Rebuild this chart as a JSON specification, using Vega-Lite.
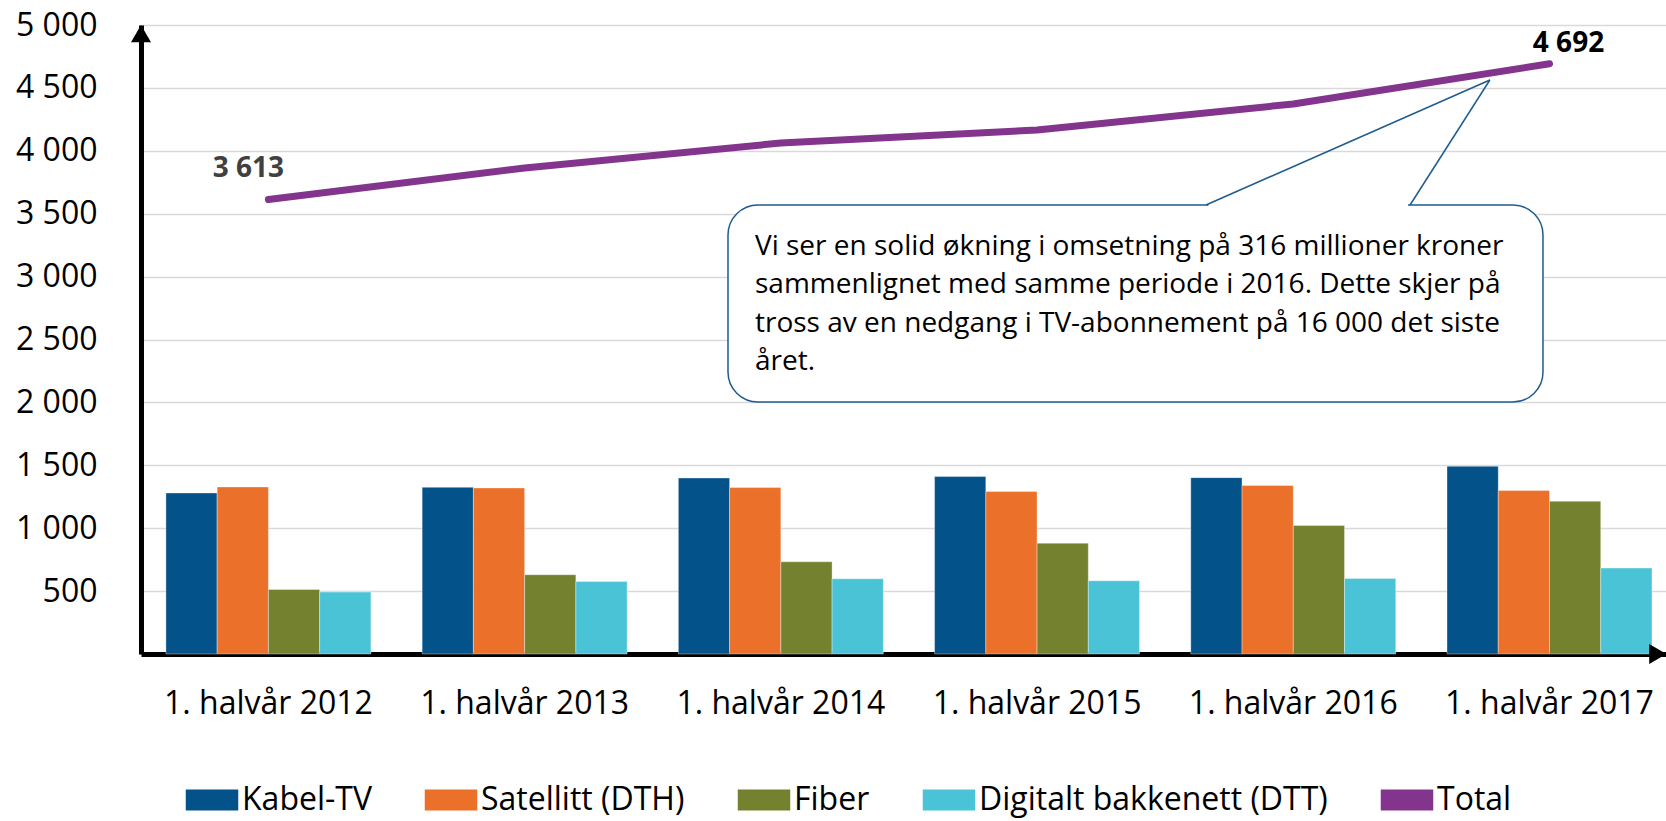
{
  "$schema": "https://vega.github.io/schema/vega-lite/v6.json",
  "autosize": "none",
  "width": 1525,
  "height": 629,
  "padding": {"left": 141, "top": 25, "right": 0, "bottom": 167},
  "background": "white",
  "config": {
    "font": "Open Sans",
    "view": {"stroke": null},
    "axis": {"labelFont": "Open Sans", "labelFontSize": 32, "labelColor": "#000000", "ticks": false, "domainColor": "#000000", "domainWidth": 5, "labelLimit": 0},
    "axisX": {"labelPadding": 34, "labelAngle": 0, "grid": false},
    "axisY": {"labelPadding": 44, "gridColor": "#D9D9D9", "gridWidth": 1.5}
  },
  "datasets": {
    "bars": [
      {"period": "1. halvår 2012", "series": "Kabel-TV", "value": 1280},
      {"period": "1. halvår 2012", "series": "Satellitt (DTH)", "value": 1328},
      {"period": "1. halvår 2012", "series": "Fiber", "value": 513},
      {"period": "1. halvår 2012", "series": "Digitalt bakkenett (DTT)", "value": 492},
      {"period": "1. halvår 2013", "series": "Kabel-TV", "value": 1325},
      {"period": "1. halvår 2013", "series": "Satellitt (DTH)", "value": 1320},
      {"period": "1. halvår 2013", "series": "Fiber", "value": 630},
      {"period": "1. halvår 2013", "series": "Digitalt bakkenett (DTT)", "value": 577},
      {"period": "1. halvår 2014", "series": "Kabel-TV", "value": 1399},
      {"period": "1. halvår 2014", "series": "Satellitt (DTH)", "value": 1323},
      {"period": "1. halvår 2014", "series": "Fiber", "value": 733},
      {"period": "1. halvår 2014", "series": "Digitalt bakkenett (DTT)", "value": 598},
      {"period": "1. halvår 2015", "series": "Kabel-TV", "value": 1410},
      {"period": "1. halvår 2015", "series": "Satellitt (DTH)", "value": 1291},
      {"period": "1. halvår 2015", "series": "Fiber", "value": 881},
      {"period": "1. halvår 2015", "series": "Digitalt bakkenett (DTT)", "value": 582},
      {"period": "1. halvår 2016", "series": "Kabel-TV", "value": 1402},
      {"period": "1. halvår 2016", "series": "Satellitt (DTH)", "value": 1339},
      {"period": "1. halvår 2016", "series": "Fiber", "value": 1021},
      {"period": "1. halvår 2016", "series": "Digitalt bakkenett (DTT)", "value": 601},
      {"period": "1. halvår 2017", "series": "Kabel-TV", "value": 1492},
      {"period": "1. halvår 2017", "series": "Satellitt (DTH)", "value": 1299},
      {"period": "1. halvår 2017", "series": "Fiber", "value": 1214},
      {"period": "1. halvår 2017", "series": "Digitalt bakkenett (DTT)", "value": 683}
    ],
    "total": [
      {"period": "1. halvår 2012", "series": "Total", "value": 3613, "label": "3 613"},
      {"period": "1. halvår 2013", "series": "Total", "value": 3863, "label": ""},
      {"period": "1. halvår 2014", "series": "Total", "value": 4062, "label": ""},
      {"period": "1. halvår 2015", "series": "Total", "value": 4166, "label": ""},
      {"period": "1. halvår 2016", "series": "Total", "value": 4372, "label": ""},
      {"period": "1. halvår 2017", "series": "Total", "value": 4692, "label": "4 692"}
    ]
  },
  "layer": [
    {
      "layer": [
        {
          "data": {"name": "bars"},
          "mark": {"type": "bar", "stroke": "#ffffff", "strokeWidth": 0.6, "strokeOpacity": 0.6},
          "encoding": {
            "x": {"field": "period", "type": "nominal", "title": null,
                  "scale": {"paddingInner": 0.2, "paddingOuter": 0.076, "align": 0.64}},
            "xOffset": {"field": "series", "type": "nominal",
                        "sort": ["Kabel-TV", "Satellitt (DTH)", "Fiber", "Digitalt bakkenett (DTT)"],
                        "scale": {"paddingInner": 0, "paddingOuter": 0}},
            "y": {"field": "value", "type": "quantitative", "title": null,
                  "scale": {"domain": [0, 5000], "nice": false},
                  "axis": {"values": [500, 1000, 1500, 2000, 2500, 3000, 3500, 4000, 4500, 5000],
                           "labelExpr": "replace(format(datum.value, ','), ',', ' ')"}},
            "color": {"field": "series", "type": "nominal",
                      "scale": {"domain": ["Kabel-TV", "Satellitt (DTH)", "Fiber", "Digitalt bakkenett (DTT)", "Total"],
                                "range": ["#03528A", "#EB7029", "#748230", "#4BC3D6", "#83358D"]},
                      "legend": {"title": null, "orient": "none", "legendX": 55, "legendY": 759,
                                 "direction": "horizontal", "columns": 5, "padding": 0,
                                 "labelFont": "Open Sans", "labelFontSize": 32, "labelColor": "#000000",
                                 "symbolSize": 441, "labelOffset": 14, "columnPadding": 52, "labelLimit": 0,
                                 "symbolType": "M-2.5,-1H2.5V1H-2.5Z", "symbolStrokeWidth": 0,
                                 "encode": {"symbols": {"update": {
                                   "shape": {"signal": "datum.value === 'Total' ? 'M-2.8,-0.45H2.8V0.45H-2.8Z' : 'M-2.5,-1H2.5V1H-2.5Z'"},
                                   "fill": {"scale": "color", "field": "value"},
                                   "stroke": {"value": "transparent"},
                                   "opacity": {"value": 1},
                                   "fillOpacity": {"value": 1}}}}}}
          }
        },
        {
          "data": {"name": "total"},
          "mark": {"type": "line", "strokeWidth": 7, "strokeCap": "round", "strokeJoin": "round"},
          "encoding": {
            "x": {"field": "period", "type": "nominal", "title": null},
            "y": {"field": "value", "type": "quantitative", "title": null, "scale": {"domain": [0, 5000], "nice": false}},
            "color": {"field": "series", "type": "nominal"}
          }
        },
        {
          "data": {"name": "total"},
          "transform": [{"filter": "datum.label === '3 613'"}],
          "mark": {"type": "text", "font": "Open Sans", "fontSize": 28, "fontWeight": "bold", "color": "#404040", "dx": -20, "dy": -30, "align": "center", "baseline": "middle"},
          "encoding": {
            "x": {"field": "period", "type": "nominal", "title": null},
            "y": {"field": "value", "type": "quantitative", "title": null},
            "text": {"field": "label"}
          }
        },
        {
          "data": {"name": "total"},
          "transform": [{"filter": "datum.label === '4 692'"}],
          "mark": {"type": "text", "font": "Open Sans", "fontSize": 28, "fontWeight": "bold", "color": "#000000", "dx": 19, "dy": -20, "align": "center", "baseline": "middle"},
          "encoding": {
            "x": {"field": "period", "type": "nominal", "title": null},
            "y": {"field": "value", "type": "quantitative", "title": null},
            "text": {"field": "label"}
          }
        }
      ]
    },
    {
      "data": {"values": [{}]},
      "layer": [
        {
          "mark": {"type": "rect", "fill": "#ffffff", "stroke": "#1F5B8E", "strokeWidth": 1.5, "cornerRadius": 30},
          "encoding": {
            "x": {"datum": 2.3095, "type": "quantitative", "scale": {"domain": [0, 6], "nice": false, "zero": false}, "axis": null},
            "x2": {"datum": 5.516},
            "y": {"datum": 2003, "type": "quantitative"},
            "y2": {"datum": 3569}
          }
        },
        {
          "mark": {"type": "rule", "color": "#ffffff", "strokeWidth": 3},
          "encoding": {
            "x": {"datum": 4.2, "type": "quantitative", "axis": null},
            "x2": {"datum": 4.985},
            "y": {"datum": 3569, "type": "quantitative"},
            "y2": {"datum": 3569}
          }
        },
        {
          "mark": {"type": "rule", "color": "#1F5B8E", "strokeWidth": 1.5},
          "encoding": {
            "x": {"datum": 4.19, "type": "quantitative", "axis": null},
            "x2": {"datum": 5.307},
            "y": {"datum": 3569, "type": "quantitative"},
            "y2": {"datum": 4563}
          }
        },
        {
          "mark": {"type": "rule", "color": "#1F5B8E", "strokeWidth": 1.5},
          "encoding": {
            "x": {"datum": 4.993, "type": "quantitative", "axis": null},
            "x2": {"datum": 5.307},
            "y": {"datum": 3569, "type": "quantitative"},
            "y2": {"datum": 4563}
          }
        },
        {
          "mark": {"type": "text", "font": "Open Sans", "fontSize": 28, "color": "#000000", "align": "left", "baseline": "alphabetic", "lineHeight": 38.3,
                   "text": ["Vi ser en solid økning i omsetning på 316 millioner kroner", "sammenlignet med samme periode i 2016. Dette skjer på", "tross av en nedgang i TV-abonnement på 16 000 det siste", "året."]},
          "encoding": {
            "x": {"datum": 2.4157, "type": "quantitative", "axis": null},
            "y": {"datum": 3172, "type": "quantitative"}
          }
        },
        {
          "mark": {"type": "point", "shape": "triangle-up", "filled": true, "color": "#000000", "size": 400, "opacity": 1},
          "encoding": {
            "x": {"datum": 0, "type": "quantitative", "axis": null},
            "y": {"datum": 4931, "type": "quantitative"}
          }
        },
        {
          "mark": {"type": "point", "shape": "triangle-right", "filled": true, "color": "#000000", "size": 400, "opacity": 1},
          "encoding": {
            "x": {"datum": 5.968, "type": "quantitative", "axis": null},
            "y": {"datum": 0, "type": "quantitative"}
          }
        }
      ]
    }
  ],
  "resolve": {"scale": {"x": "independent"}, "axis": {"x": "independent"}}
}
